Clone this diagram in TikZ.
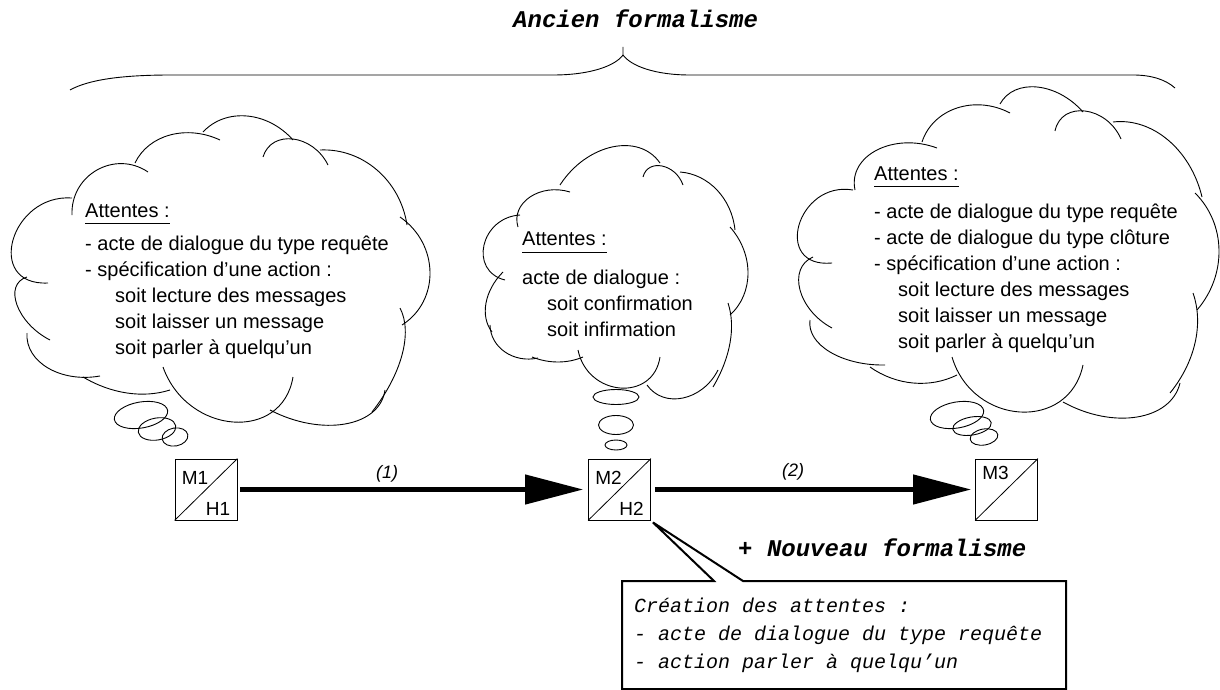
\documentclass[tikz,border=0pt]{standalone}
\usepackage{fontspec}
\setmainfont{Liberation Sans}
\newfontfamily\monofont{Liberation Mono}
\usetikzlibrary{arrows.meta}
% arc from S=(#1,#2) through M=(#3,#4) to E=(#5,#6), near-circular cubic
\newcommand\cloudarc[6]{%
  \pgfmathsetmacro\pfdx{#3-(#1+#5)/2}%
  \pgfmathsetmacro\pfdy{#4-(#2+#6)/2}%
  \pgfmathsetmacro\pfcx{#5-#1}%
  \pgfmathsetmacro\pfcy{#6-#2}%
  \pgfmathsetmacro\pfal{(1-4*((\pfdx/10)*(\pfdx/10)+(\pfdy/10)*(\pfdy/10))/((\pfcx/10)*(\pfcx/10)+(\pfcy/10)*(\pfcy/10)))/3}%
  \draw[cloudline] (#1,#2) .. controls ({#1+4/3*(\pfdx)+(\pfal)*(\pfcx)},{#2+4/3*(\pfdy)+(\pfal)*(\pfcy)}) and ({#5+4/3*(\pfdx)-(\pfal)*(\pfcx)},{#6+4/3*(\pfdy)-(\pfal)*(\pfcy)}) .. (#5,#6);%
}
\begin{document}
\begin{tikzpicture}[x=1pt,y=-1pt,
  cloudline/.style={line width=0.9pt},
  bubble/.style={line width=0.9pt},
  mbox/.style={draw, line width=0.8pt, minimum width=62pt, minimum height=61pt, inner sep=0pt},
  boxlbl/.style={font=\fontsize{19}{23}\selectfont, inner sep=0pt},
  cloudtxt/.style={font=\fontsize{20}{26}\selectfont, inner sep=0pt, anchor=base west},
  ulinestyle/.style={line width=1pt},
  steplbl/.style={font=\itshape\fontsize{18}{22}\selectfont, inner sep=0pt, anchor=base},
  bigarrow/.style={line width=4.5pt, -{Triangle[length=58pt,width=29pt]}},
  titletxt/.style={font=\monofont\bfseries\itshape\fontsize{24}{28}\selectfont, inner sep=0pt, anchor=base west},
  calltxt/.style={font=\monofont\itshape\fontsize{20}{28}\selectfont, inner sep=0pt, anchor=base west},
  callbox/.style={line width=2pt, line join=miter},
  bracestyle/.style={line width=0.9pt}]
\useasboundingbox (0,0) rectangle (1220,690);

% ---------- title and brace ----------
\node[titletxt] (ancien) at (513,28) {Ancien formalisme};
\draw[bracestyle] (70,90) .. controls (88,80) and (120,75) .. (171,75) -- (553,75)
  .. controls (590,75) and (615,66) .. (623,55) -- (623,47);
\draw[bracestyle] (623,55) .. controls (631,66) and (655,75) .. (690,75) -- (1133,75)
  .. controls (1150,75) and (1165,79) .. (1175,88);

% ---------- cloud 1 ----------
\cloudarc{48}{283}{13}{240}{72}{198}
\cloudarc{72}{215}{97}{170}{148}{172}
\cloudarc{135}{163}{170}{135}{220}{140}
\cloudarc{203}{132}{247}{116}{293}{140}
\cloudarc{263}{157}{293}{139}{328}{165}
\cloudarc{320}{150}{377}{170}{407}{225}
\cloudarc{400}{217}{430}{272}{402}{325}
\cloudarc{400}{308}{402}{355}{372}{412}
\cloudarc{385}{390}{345}{424}{270}{410}
\cloudarc{293}{377}{233}{422}{163}{367}
\cloudarc{170}{390}{127}{393}{83}{377}
\cloudarc{100}{376}{48}{368}{27}{333}
\cloudarc{27}{277}{17}{305}{50}{340}
\draw[bubble, rotate around={10:(141,415)}] (141,415) ellipse [x radius=27, y radius=13];
\draw[bubble, rotate around={10:(157,429)}] (157,429) ellipse [x radius=19, y radius=11];
\draw[bubble, rotate around={10:(175,437)}] (175,437) ellipse [x radius=13, y radius=9];

\node[cloudtxt] (att1) at (85,217) {Attentes :};
\draw[ulinestyle] ([yshift=-6pt]att1.base west) -- ([yshift=-6pt]att1.base east);
\node[cloudtxt] (txt1) at (85,250.5) {\begin{tabular}[t]{@{}l@{}}
- acte de dialogue du type requête\\
- spécification d’une action :\\
\hspace*{30pt}soit lecture des messages\\
\hspace*{30pt}soit laisser un message\\
\hspace*{30pt}soit parler à quelqu’un
\end{tabular}};

% ---------- cloud 2 ----------
\cloudarc{520}{215}{484}{245}{505}{280}
\cloudarc{503}{272}{486}{303}{492}{332}
\cloudarc{490}{325}{505}{352}{538}{358}
\cloudarc{532}{357}{558}{362}{583}{357}
\cloudarc{660}{357}{620}{388}{578}{350}
\cloudarc{718}{370}{683}{398}{647}{385}
\cloudarc{728}{303}{730}{343}{713}{387}
\cloudarc{730}{227}{748}{273}{730}{315}
\cloudarc{680}{172}{717}{190}{735}{230}
\cloudarc{643}{177}{662}{166}{683}{185}
\cloudarc{560}{185}{612}{147}{660}{163}
\cloudarc{518}{227}{530}{197}{570}{192}
\draw[bubble] (616,397) ellipse [x radius=23, y radius=7.5];
\draw[bubble] (616,425) ellipse [x radius=17.5, y radius=9.5];
\draw[bubble] (616,445) ellipse [x radius=11, y radius=5];

\node[cloudtxt] (att2) at (522,245) {Attentes :};
\draw[ulinestyle] ([yshift=-7pt]att2.base west) -- ([yshift=-7pt]att2.base east);
\node[cloudtxt] (txt2) at (522,284) {\begin{tabular}[t]{@{}l@{}}
acte de dialogue :\\
\hspace*{25pt}soit confirmation\\
\hspace*{25pt}soit infirmation
\end{tabular}};

% ---------- cloud 3 ----------
\cloudarc{832}{263}{799}{225}{853}{190}
\cloudarc{855}{190}{877}{150}{937}{148}
\cloudarc{922}{142}{957}{108}{1010}{113}
\cloudarc{1000}{104}{1037}{87}{1083}{112}
\cloudarc{1055}{131}{1085}{111}{1121}{139}
\cloudarc{1113}{122}{1168}{140}{1202}{197}
\cloudarc{1195}{193}{1219}{250}{1197}{310}
\cloudarc{1193}{293}{1195}{343}{1170}{393}
\cloudarc{1180}{383}{1137}{417}{1063}{402}
\cloudarc{1083}{365}{1020}{412}{952}{357}
\cloudarc{957}{375}{913}{383}{870}{367}
\cloudarc{885}{365}{830}{352}{810}{320}
\cloudarc{832}{328}{800}{290}{813}{257}
\draw[bubble, rotate around={10:(957,415)}] (957,415) ellipse [x radius=27, y radius=13];
\draw[bubble, rotate around={10:(972,426)}] (972,426) ellipse [x radius=19.5, y radius=9];
\draw[bubble, rotate around={10:(984,437)}] (984,437) ellipse [x radius=14, y radius=8];

\node[cloudtxt] (att3) at (874,180) {Attentes :};
\draw[ulinestyle] ([yshift=-6pt]att3.base west) -- ([yshift=-6pt]att3.base east);
\node[cloudtxt] (txt3) at (874,218) {\begin{tabular}[t]{@{}l@{}}
- acte de dialogue du type requête\\
- acte de dialogue du type clôture\\
- spécification d’une action :\\
\hspace*{24pt}soit lecture des messages\\
\hspace*{24pt}soit laisser un message\\
\hspace*{24pt}soit parler à quelqu’un
\end{tabular}};

% ---------- states ----------
\node[mbox] (m1) at (206,489.5) {};
\node[mbox] (m2) at (619.5,489.5) {};
\node[mbox] (m3) at (1006.5,489.5) {};
\draw[line width=0.8pt] (m1.south west) -- (m1.north east);
\draw[line width=0.8pt] (m2.south west) -- (m2.north east);
\draw[line width=0.8pt] (m3.south west) -- (m3.north east);
\node[boxlbl, anchor=base west] (m1lbl) at ([xshift=7pt,yshift=-26pt]m1.north west) {M1};
\node[boxlbl, anchor=base east] (h1lbl) at ([xshift=-7pt,yshift=5pt]m1.south east) {H1};
\node[boxlbl, anchor=base west] (m2lbl) at ([xshift=7pt,yshift=-26pt]m2.north west) {M2};
\node[boxlbl, anchor=base east] (h2lbl) at ([xshift=-7pt,yshift=5pt]m2.south east) {H2};
\node[boxlbl, anchor=base west] (m3lbl) at ([xshift=7pt,yshift=-21pt]m3.north west) {M3};

\draw[bigarrow, shorten <=3pt, shorten >=5pt] (m1.east) -- (m2.west);
\draw[bigarrow, shorten <=4pt, shorten >=4pt] (m2.east) -- (m3.west);
\node[steplbl] (s1) at (387,478) {(1)};
\node[steplbl] (s2) at (793,476) {(2)};

% ---------- new formalism callout ----------
\node[titletxt] (nouveau) at (738,556) {+ Nouveau formalisme};
\coordinate (tip) at ([xshift=2pt,yshift=-2pt]m2.south east);
\draw[callbox] (622,581) -- (714,581) -- (tip) -- (743,581) -- (1066,581) -- (1066,689) -- (622,689) -- cycle;
\node[calltxt] (call) at (634,612) {\begin{tabular}[t]{@{}l@{}}
Création des attentes :\\
- acte de dialogue du type requête\\
- action parler à quelqu’un
\end{tabular}};
\end{tikzpicture}
\end{document}
